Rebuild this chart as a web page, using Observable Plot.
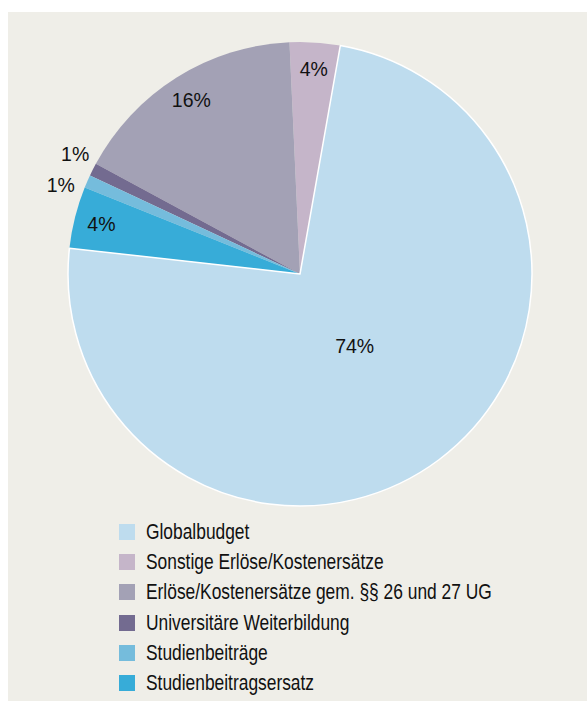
<!DOCTYPE html>
<html>
<head>
<meta charset="utf-8">
<script src="https://cdn.jsdelivr.net/npm/d3@7"></script>
<script src="https://cdn.jsdelivr.net/npm/@observablehq/plot@0.6"></script>
<style>
  html, body { margin: 0; padding: 0; background: #ffffff; }
  #panel { position: absolute; left: 8px; top: 12px; width: 579px; height: 689px; background: #efeee8; overflow: hidden; }
  #chart { position: absolute; left: 0; top: 0; }
  #legend { position: absolute; left: 111px; top: 505px; color: #111111; font-size: 21.2px; }
  .row { display: flex; align-items: center; height: 30.2px; white-space: nowrap; }
  .sw { width: 16px; height: 16px; margin-right: 11px; flex: none; }
  .lt { display: inline-block; transform-origin: left center; }
</style>
</head>
<body>
<div id="panel">
  <div id="chart"></div>
  <div id="legend"></div>
</div>
<script>
// ---- data ----
const categories = [
  "Globalbudget",
  "Sonstige Erlöse/Kostenersätze",
  "Erlöse/Kostenersätze gem. §§ 26 und 27 UG",
  "Universitäre Weiterbildung",
  "Studienbeiträge",
  "Studienbeitragsersatz"
];
const shares = [74.0, 3.5, 16.4, 0.9, 0.9, 4.3];
const shareLabels = ["74%", "4%", "16%", "1%", "1%", "4%"];
const sliceColors = ["#bedcee", "#c5b5c9", "#a3a1b5", "#736b90", "#75bcdc", "#37acd8"];

// ---- layout constants ----
const W = 579, H = 500, R = 232, CX = 292, CY = 262;
const startDeg = 276.4; // first slice starts here, slices run counterclockwise
const rad = Math.PI / 180;

const table = categories.map((c, i) => ({ category: c, value: shares[i], label: shareLabels[i] }));
const a0 = startDeg * rad;
const pie = d3.pie().sort(null).value(d => d.value).startAngle(a0).endAngle(a0 - 2 * Math.PI);
const arcs = pie(table);

const colorScale = Plot.scale({ color: { type: "ordinal", domain: categories, range: sliceColors } });

// label positions (in unit-circle data coordinates)
arcs.forEach(a => {
  a.mid = (a.startAngle + a.endAngle) / 2;
  const f = a.data.value / 100;
  a.rr = f > 0.5 ? 0.39 : (f < 0.02 ? 1.1 : 0.885);
});
const outer = arcs.filter(a => a.rr > 1).sort((p, q) => p.mid - q.mid);
const minSep = 7.6 * rad;
for (let it = 0; it < 10; it++) {
  for (let j = 0; j + 1 < outer.length; j++) {
    const p = outer[j], q = outer[j + 1];
    if (q.mid - p.mid < minSep) {
      const m = (p.mid + q.mid) / 2;
      p.mid = m - minSep / 2; q.mid = m + minSep / 2;
    }
  }
}
const labelData = arcs.map(a => ({
  x: a.rr * Math.sin(a.mid),
  y: a.rr * Math.cos(a.mid),
  label: a.data.label,
  outside: a.rr > 1
}));

const sliceMark = (index, scales) => {
  const cx = scales.x(0), cy = scales.y(0), r = scales.x(1) - cx;
  const arc = d3.arc().innerRadius(0).outerRadius(r);
  const g = d3.create("svg:g").attr("transform", `translate(${cx},${cy})`);
  const order = arcs.slice(1).concat([arcs[0]]);
  for (const a of order) {
    const isMain = a.index === 0;
    g.append("path")
      .attr("d", arc(a))
      .attr("fill", colorScale.apply(a.data.category))
      .attr("stroke", isMain ? "#ffffff" : "none")
      .attr("stroke-width", isMain ? 1.5 : 0)
      .attr("stroke-linejoin", "round");
  }
  return g.node();
};

const textOpts = {
  x: "x", y: "y", text: "label",
  fontSize: 19.5, fill: "#111111",
  fontFamily: "'Liberation Sans', Arial, sans-serif"
};

const chart = Plot.plot({
  width: W,
  height: H,
  margin: 0,
  style: { background: "transparent", overflow: "visible" },
  x: { domain: [-1, 1], range: [CX - R, CX + R], axis: null },
  y: { domain: [-1, 1], range: [CY + R, CY - R], axis: null },
  marks: [
    sliceMark,
    Plot.text(labelData.filter(d => !d.outside), textOpts),
    Plot.text(labelData.filter(d => d.outside), { ...textOpts, dx: -2, dy: 4 })
  ]
});
document.getElementById("chart").appendChild(chart);

// ---- legend ----
function hasFont(name) {
  const c = document.createElement("canvas").getContext("2d");
  const s = "Globalbudget Erlöse 26 und 27 UG";
  c.font = "40px monospace"; const w1 = c.measureText(s).width;
  c.font = `40px '${name}', monospace`; const w2 = c.measureText(s).width;
  return Math.abs(w1 - w2) > 0.5;
}
const narrow = hasFont("Liberation Sans Narrow");
const legend = d3.select("#legend")
  .style("font-family", narrow ? "'Liberation Sans Narrow', sans-serif" : "'Liberation Sans', Arial, sans-serif");
categories.forEach(c => {
  const row = legend.append("div").attr("class", "row");
  row.append("div").attr("class", "sw").style("background", colorScale.apply(c));
  const t = row.append("span").attr("class", "lt").text(c);
  if (!narrow) t.style("transform", "scaleX(0.82)");
});
</script>
</body>
</html>
